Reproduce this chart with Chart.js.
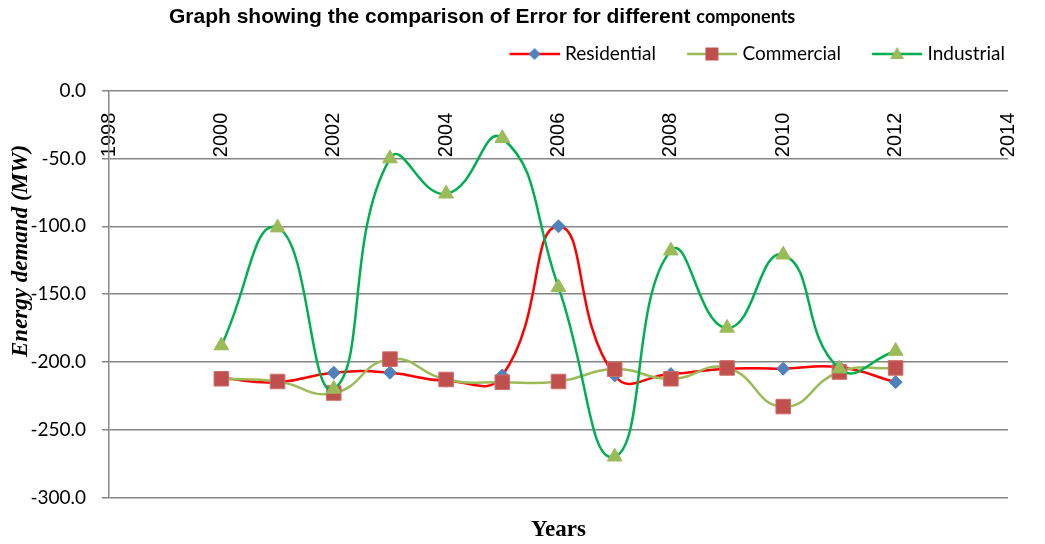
<!DOCTYPE html>
<html>
<head>
<meta charset="utf-8">
<script src="https://cdn.jsdelivr.net/npm/chart.js@4.4.1/dist/chart.umd.min.js"></script>
<style>
  html, body { margin: 0; padding: 0; background: #fff; }
  #chart { display: block; }
</style>
</head>
<body>
<canvas id="chart" width="1045" height="544"></canvas>
<script>
const years = [2000, 2001, 2002, 2003, 2004, 2005, 2006, 2007, 2008, 2009, 2010, 2011, 2012];
const residential = [-212, -215, -208, -208, -214, -210, -100, -210, -209, -205, -205, -204, -215];
const commercial = [-212.5, -214.5, -223, -198, -213, -215, -214.5, -205.5, -212.5, -204.5, -233, -207.5, -204.5];
const industrial = [-188, -101, -220, -50, -76, -35, -145, -270, -118, -175, -121, -205, -192];
const xTickYears = [1998, 2000, 2002, 2004, 2006, 2008, 2010, 2012, 2014];
const seriesNames = ['Residential', 'Commercial', 'Industrial'];

const titleMain = 'Graph showing the comparison of Error for different ';
const titleTail = 'components';
const yTitle = 'Energy demand (MW)';
const xTitle = 'Years';

const gridGrey = '#868686';

function toPoints(vals) {
    return years.map((yr, i) => ({ x: yr, y: vals[i] }));
}

// legend icon: a short line with the marker in the middle (like excel)
function makeIcon(lineColor, shape, fill) {
    const c = document.createElement('canvas');
    c.width = 82;
    c.height = 20;
    const g = c.getContext('2d');
    g.strokeStyle = lineColor;
    g.lineWidth = 2.5;
    g.beginPath();
    g.moveTo(32, 10);
    g.lineTo(82, 10);
    g.stroke();
    g.fillStyle = fill;
    g.beginPath();
    const cx = 57, cy = 10;
    if (shape === 'diamond') {
        g.moveTo(cx - 6, cy); g.lineTo(cx, cy - 6); g.lineTo(cx + 6, cy); g.lineTo(cx, cy + 6);
    } else if (shape === 'square') {
        g.rect(cx - 6.5, cy - 6.5, 13, 13);
    } else {
        g.moveTo(cx, cy - 7); g.lineTo(cx + 7, cy + 5); g.lineTo(cx - 7, cy + 5);
    }
    g.closePath();
    g.fill();
    return c;
}

const legendIcons = [
    makeIcon('#FF0000', 'diamond', '#4F81BD'),
    makeIcon('#9BBB59', 'square', '#C0504D'),
    makeIcon('#00B050', 'triangle', '#9BBB59')
];

const titlePlugin = {
    id: 'mixedTitle',
    afterDraw(chart) {
        const ctx = chart.ctx;
        ctx.save();
        ctx.fillStyle = '#000';
        ctx.textBaseline = 'alphabetic';
        ctx.font = 'bold 21px "Liberation Sans"';
        ctx.fillText(titleMain, 169, 23);
        const w = ctx.measureText(titleMain).width;
        ctx.font = 'bold 18px Lato';
        ctx.fillText(titleTail, 169 + w, 23);
        ctx.restore();
    }
};

const data = {
    datasets: [{
        label: seriesNames[0],
        data: toPoints(residential),
        borderColor: '#FF0000',
        backgroundColor: '#4F81BD',
        borderWidth: 2.5,
        pointStyle: 'rectRot',
        pointRadius: 6.5,
        pointBackgroundColor: '#4F81BD',
        pointBorderColor: '#4F81BD',
        pointBorderWidth: 1,
        tension: 0.5,
        order: 3
    }, {
        label: seriesNames[1],
        data: toPoints(commercial),
        borderColor: '#9BBB59',
        backgroundColor: '#C0504D',
        borderWidth: 2.5,
        pointStyle: 'rect',
        pointRadius: 10.3,
        pointBackgroundColor: '#C0504D',
        pointBorderColor: '#CC6F6C',
        pointBorderWidth: 1,
        tension: 0.5,
        order: 2
    }, {
        label: seriesNames[2],
        data: toPoints(industrial),
        borderColor: '#00B050',
        backgroundColor: '#9BBB59',
        borderWidth: 2.5,
        pointStyle: 'triangle',
        pointRadius: 8.5,
        pointBackgroundColor: '#9BBB59',
        pointBorderColor: '#9BBB59',
        pointBorderWidth: 1,
        tension: 0.5,
        order: 1
    }]
};

const config = {
    type: 'line',
    data: data,
    plugins: [titlePlugin],
    options: {
        responsive: false,
        animation: false,
        devicePixelRatio: 1,
        layout: { padding: { top: 41.5, right: 37, bottom: 0, left: 0 } },
        plugins: {
            tooltip: { enabled: false },
            // empty title just keeps the gap between legend and plot
            title: { display: true, text: '', weight: 500, padding: 0, font: { size: 15, lineHeight: 1.15 } },
            legend: {
                position: 'top',
                align: 'end',
                labels: {
                    usePointStyle: true,
                    pointStyleWidth: 74,
                    padding: 3,
                    color: '#000',
                    font: { family: 'Lato', size: 19 },
                    sort: (a, b) => a.datasetIndex - b.datasetIndex,
                    generateLabels: (chart) => Chart.defaults.plugins.legend.labels.generateLabels(chart)
                        .map(it => Object.assign(it, { pointStyle: legendIcons[it.datasetIndex] }))
                }
            }
        },
        scales: {
            x: {
                type: 'linear',
                position: { y: 0 },
                min: 1998,
                max: 2014,
                afterBuildTicks: (s) => { s.ticks = xTickYears.map(v => ({ value: v })); },
                // labels sit inside the plot, they need no side room
                afterFit: (s) => { s.paddingLeft = 0; s.paddingRight = 0; },
                ticks: {
                    minRotation: 90,
                    maxRotation: 90,
                    autoSkip: false,
                    padding: 22,
                    color: '#000',
                    font: { family: 'Liberation Sans', size: 20 },
                    callback: (v) => String(v)
                },
                grid: { display: false, drawTicks: false },
                border: { display: false }
            },
            xt: {
                type: 'linear',
                position: 'bottom',
                min: 1998,
                max: 2014,
                ticks: { display: false },
                grid: { display: false, drawTicks: false },
                border: { display: false },
                title: {
                    display: true,
                    text: xTitle,
                    color: '#000',
                    font: { family: 'Liberation Serif', size: 23, weight: 'bold' },
                    padding: { top: 19, bottom: 0 }
                }
            },
            y: {
                min: -300,
                max: 0,
                afterFit: (s) => { s.width = 109; },
                ticks: {
                    stepSize: 50,
                    padding: 16,
                    color: '#000',
                    font: { family: 'Lato', size: 19 },
                    callback: (v) => v.toFixed(1)
                },
                grid: { color: gridGrey, lineWidth: 1.5, tickLength: 7 },
                border: { color: gridGrey, width: 1.5 },
                title: {
                    display: true,
                    text: ' '.repeat(15) + yTitle,
                    color: '#000',
                    font: { family: 'Liberation Serif', size: 23, weight: 'bold', style: 'italic' },
                    padding: { top: 7, bottom: 0 }
                }
            }
        }
    }
};

window.addEventListener('DOMContentLoaded', () => {
    new Chart(document.getElementById('chart'), config);
});
</script>
</body>
</html>
